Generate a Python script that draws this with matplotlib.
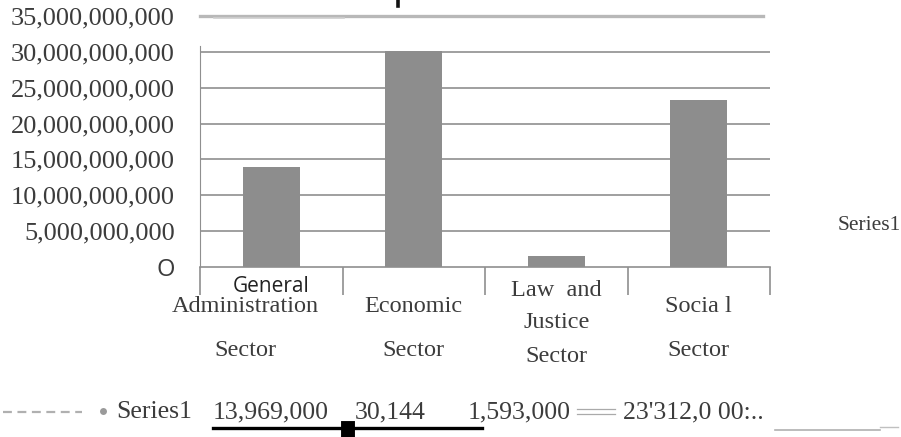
import numpy as np
import matplotlib.pyplot as plt
from matplotlib.transforms import blended_transform_factory

# data
sectors = ["General Administration Sector", "Economic Sector",
           "Law and Justice Sector", "Social Sector"]
budget = [13969000000, 30144000000, 1593000000, 23312000000]
y_ticks = [0, 5e9, 10e9, 15e9, 20e9, 25e9, 30e9, 35e9]
series_name = "Series1"
table_labels = ["13,969,000", "30,144", "1,593,000", "23'312,0 00:.."]

SERIF = "Liberation Serif"
SANS = "Open Sans"
TXT = "#3c3c3c"
GRID = "#8f8f8f"

W, H = 901, 437
fig = plt.figure(figsize=(W / 100, H / 100), dpi=100)
fig.patch.set_facecolor("white")


def fx(px):
    return px / W


def fy(py):
    return 1 - py / H


ax = fig.add_axes([fx(200), fy(267), fx(770) - fx(200), fy(16) - fy(267)])
ax.set_xlim(-0.5, 3.5)
ax.set_ylim(0, 35e9)

x = np.arange(len(sectors))
ax.bar(x, budget, width=0.4, color="#8d8d8d", zorder=3)

# gridlines (top one drawn separately, lighter)
for v in y_ticks[1:-1]:
    ax.axhline(v, color=GRID, lw=1.2, zorder=1)
ax.plot([-0.5, 3.45], [35e9, 35e9], color="#b8b8b8", lw=2.4, clip_on=False)
ax.plot([-0.4, 0.51], [34.7e9, 34.7e9], color="#d0d0d0", lw=1.2, clip_on=False)

for s in ["top", "right"]:
    ax.spines[s].set_visible(False)
ax.spines["left"].set_color(GRID)
ax.spines["left"].set_bounds(0, 30.8e9)
ax.spines["bottom"].set_color(GRID)
ax.spines["bottom"].set_linewidth(1.2)

ax.set_yticks(y_ticks)
ax.set_yticklabels([f"{int(v):,}" if v else "O" for v in y_ticks])
ax.tick_params(axis="y", length=0, pad=18, labelsize=19, labelcolor=TXT)
for lab in ax.get_yticklabels():
    lab.set_fontfamily(SERIF)
ax.get_yticklabels()[0].set_fontfamily(SANS)
ax.get_yticklabels()[0].set_fontsize(17)

ax.set_xticks(np.arange(-0.5, 4, 1))
ax.set_xticklabels([])
ax.tick_params(axis="x", length=20, width=1.2, color=GRID, direction="out")

# category labels
tr = blended_transform_factory(ax.transData, fig.transFigure)
ax.text(0, fy(286), "General", transform=tr, ha="center", va="center",
        fontsize=15, family=SANS, color="#222222")
ax.text(-0.18, fy(306), "Administration", transform=tr, ha="center", va="center",
        fontsize=17.5, family=SERIF, color=TXT)
ax.text(-0.18, fy(350), "Sector", transform=tr, ha="center", va="center",
        fontsize=17.5, family=SERIF, color=TXT)
ax.text(1, fy(306), "Economic", transform=tr, ha="center", va="center",
        fontsize=17.5, family=SERIF, color=TXT)
ax.text(1, fy(350), "Sector", transform=tr, ha="center", va="center",
        fontsize=17.5, family=SERIF, color=TXT)
ax.text(2, fy(290), "Law  and", transform=tr, ha="center", va="center",
        fontsize=17.5, family=SERIF, color=TXT)
ax.text(2, fy(322), "Justice", transform=tr, ha="center", va="center",
        fontsize=17.5, family=SERIF, color=TXT)
ax.text(2, fy(357), "Sector", transform=tr, ha="center", va="center",
        fontsize=17.5, family=SERIF, color=TXT)
ax.text(3, fy(306), "Socia l", transform=tr, ha="center", va="center",
        fontsize=17.5, family=SERIF, color=TXT)
ax.text(3, fy(350), "Sector", transform=tr, ha="center", va="center",
        fontsize=17.5, family=SERIF, color=TXT)

# legend text on the right
fig.text(fx(838), fy(226), series_name, ha="left", va="center",
         fontsize=15.5, family=SERIF, color=TXT)

# stub of the cropped-off title
fig.add_artist(plt.Line2D([fx(398), fx(398)], [fy(0), fy(6)], color="#111111", lw=2.6))

# data table row at the bottom
fig.add_artist(plt.Line2D([fx(3), fx(82)], [fy(412), fy(412)], color="#b0b0b0",
                          lw=1.6, ls=(0, (4, 2.5))))
fig.add_artist(plt.Line2D([fx(103)], [fy(411)], marker="o", ms=5,
                          color="#9a9a9a", mec="none"))
fig.text(fx(116), fy(412), series_name, ha="left", va="center",
         fontsize=18.5, family=SERIF, color=TXT)
row_x = [213, 355, 468, 623]
for px, s in zip(row_x, table_labels):
    fig.text(fx(px), fy(412), s, ha="left", va="center",
             fontsize=18.5, family=SERIF, color=TXT)
fig.add_artist(plt.Line2D([fx(213), fx(482)], [fy(428), fy(428)], color="black", lw=2.4))
fig.add_artist(plt.Line2D([fx(348), fx(348)], [fy(428), fy(432)], color="black", lw=10))
fig.add_artist(plt.Line2D([fx(577), fx(615)], [fy(409), fy(409)], color="#aaaaaa", lw=0.9))
fig.add_artist(plt.Line2D([fx(577), fx(615)], [fy(414), fy(414)], color="#aaaaaa", lw=0.9))
fig.add_artist(plt.Line2D([fx(775), fx(880)], [fy(430), fy(430)], color="#b0b0b0", lw=1.2))
fig.add_artist(plt.Line2D([fx(880), fx(898)], [fy(427), fy(427)], color="#c0c0c0", lw=1.0))

fig.savefig("out.png", dpi=100, facecolor="white")
